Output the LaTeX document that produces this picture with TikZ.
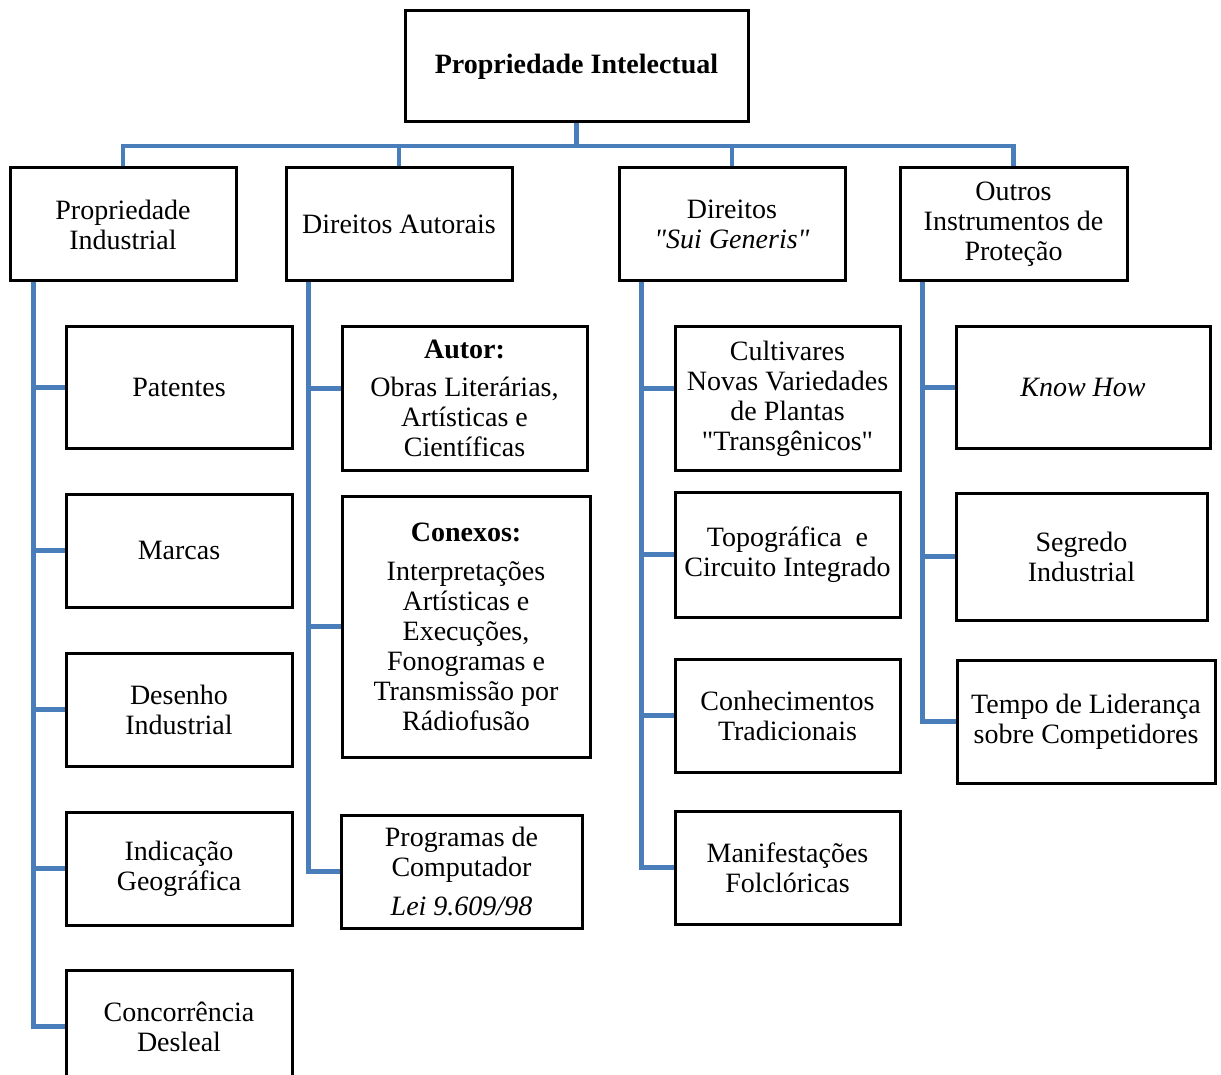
\documentclass[tikz,border=0pt]{standalone}
\usepackage{fontspec}
\setmainfont{Liberation Serif}[Ligatures=TeXOff]
\begin{document}
\begin{tikzpicture}[x=1pt,y=-1pt,
  box/.style={draw=black, line width=3pt, fill=white, inner sep=0pt, align=center,
    font=\fontsize{28}{30}\selectfont},
  conn/.style={draw={rgb,255:red,74;green,126;blue,187}, line width=4.5pt, line join=miter, line cap=butt}]
\useasboundingbox (0,0) rectangle (1221,1075);
\clip (0,0) rectangle (1221,1075);
\fill[white] (0,0) rectangle (1221,1075);

% root
\node[box, minimum width=343pt, minimum height=111pt] (top) at (576.5,66.5) {\textbf{Propriedade Intelectual}};

% level 1
\node[box, minimum width=226pt, minimum height=113pt] (pi) at (123,224.5) {Propriedade\\Industrial};
\node[box, minimum width=226pt, minimum height=113pt] (da) at (399,224.5) {Direitos Autorais};
\node[box, minimum width=226pt, minimum height=113pt] (dsg) at (732,224.5) {Direitos\\\textit{"Sui Generis"}};
\node[box, minimum width=227pt, minimum height=113pt] (oip) at (1013.5,224.5) {Outros\\Instrumentos de\\Proteção};

% column 1
\node[box, minimum width=226pt, minimum height=121pt] (pat) at (179,387.5) {Patentes};
\node[box, minimum width=226pt, minimum height=113pt] (mar) at (179,550.5) {Marcas};
\node[box, minimum width=226pt, minimum height=113pt] (des) at (179,709.5) {Desenho\\Industrial};
\node[box, minimum width=226pt, minimum height=113pt] (ind) at (179,868.5) {Indicação\\Geográfica};
\node[box, minimum width=226pt, minimum height=113pt] (con) at (179,1026.5) {Concorrência\\Desleal};

% column 2
\node[box, minimum width=245pt, minimum height=143pt] (aut) at (464.5,398.5) {\textbf{Autor:}\\[8pt]Obras Literárias,\\Artísticas e\\Científicas};
\node[box, minimum width=248pt, minimum height=261pt] (cnx) at (466,626.5) {\textbf{Conexos:}\\[9pt]Interpretações\\Artísticas e\\Execuções,\\Fonogramas e\\Transmissão por\\Rádiofusão};
\node[box, minimum width=241pt, minimum height=113pt] (prg) at (461.5,871.5) {Programas de\\Computador\\[9pt]\textit{Lei 9.609/98}};

% column 3
\node[box, minimum width=225pt, minimum height=143pt] (cult) at (787.5,398.5) {Cultivares\\Novas Variedades\\de Plantas\\"Transgênicos"};
\node[box, minimum width=225pt, minimum height=125pt] (topo) at (787.5,554.5) {Topográfica\ \ e\\Circuito Integrado};
\node[box, minimum width=225pt, minimum height=113pt] (conh) at (787.5,715.5) {Conhecimentos\\Tradicionais};
\node[box, minimum width=225pt, minimum height=113pt] (manif) at (787.5,867.5) {Manifestações\\Folclóricas};

% column 4
\node[box, minimum width=254pt, minimum height=121pt] (know) at (1083,387.5) {\textit{Know How}};
\node[box, minimum width=251pt, minimum height=127pt] (seg) at (1081.5,556.5) {Segredo\\Industrial};
\node[box, minimum width=258pt, minimum height=123pt] (tempo) at (1086,721.5) {Tempo de Liderança\\sobre Competidores};

% connectors
\coordinate (bus) at (576.5,146);
\draw[conn] (top.south) -- (bus);
\draw[conn] (pi.north) |- (bus) -| (oip.north);
\draw[conn] (da.north) |- (bus);
\draw[conn] (dsg.north) |- (bus);

\coordinate (s1) at ([xshift=25pt]pi.south west);
\coordinate (s2) at ([xshift=24pt]da.south west);
\coordinate (s3) at ([xshift=24pt]dsg.south west);
\coordinate (s4) at ([xshift=24pt]oip.south west);

\foreach \c in {pat,mar,des,ind,con} \draw[conn] (s1) |- (\c.west);
\draw[conn] (s2) |- ([yshift=10pt]aut.west);
\foreach \c in {cnx,prg} \draw[conn] (s2) |- (\c.west);
\draw[conn] (s3) |- ([yshift=10pt]cult.west);
\foreach \c in {topo,conh,manif} \draw[conn] (s3) |- (\c.west);
\foreach \c in {know,seg,tempo} \draw[conn] (s4) |- (\c.west);
\end{tikzpicture}
\end{document}
